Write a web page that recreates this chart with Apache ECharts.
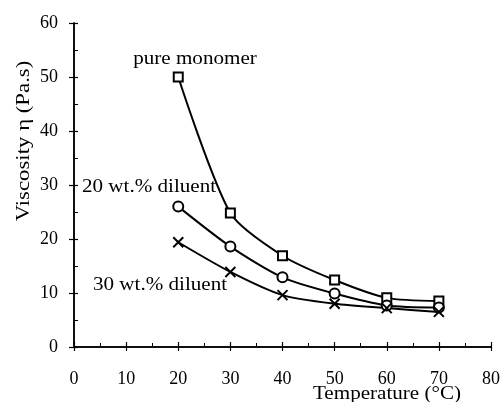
<!DOCTYPE html>
<html><head><meta charset="utf-8">
<script src="https://cdn.jsdelivr.net/npm/echarts@6/dist/echarts.min.js"></script>
<style>html,body{margin:0;padding:0;background:#fff}#c{width:503px;height:402px}</style>
</head><body><div id="c"></div>
<script>
const temps = [20, 30, 40, 50, 60, 70];
const pureMonomer = [50, 24.8, 16.9, 12.4, 9.1, 8.5];
const diluent20 = [26, 18.6, 12.9, 9.9, 7.7, 7.3];
const diluent30 = [19.4, 13.9, 9.6, 8.0, 7.2, 6.5];
const seriesNames = ['pure monomer', '20 wt.% diluent', '30 wt.% diluent'];
const xTitle = 'Temperature (°C)';
const yTitle = 'Viscosity η (Pa.s)';

const font = 'Liberation Serif';
const pairs = a => temps.map((t, i) => [t, a[i]]);
const crossPath = 'path://M0,0L10,10M10,0L0,10';

const chart = echarts.init(document.getElementById('c'));
const axisCommon = {
  axisLine: {show: true, lineStyle: {color: '#000', width: 1.5}},
  splitLine: {show: false}
};
const txt = (text, x, y, size, sx, rot) => ({
  type: 'text', x: x, y: y, scaleX: sx, rotation: rot || 0,
  style: {text: text, x: 0, y: 0, align: 'center', verticalAlign: 'middle',
    font: size + 'px "Liberation Serif"', fill: '#000'}
});
chart.setOption({
  backgroundColor: '#fff',
  animation: false,
  grid: {left: 74, right: 11, top: 23, bottom: 55},
  xAxis: [{
    type: 'value', min: 0, max: 80, interval: 10,
    ...axisCommon,
    axisTick: {show: true, inside: false, length: 4, lineStyle: {color: '#000', width: 1.2}},
    axisLabel: {color: '#000', fontFamily: font, fontSize: 18, margin: 23}
  }, {
    type: 'value', min: 0, max: 80, interval: 10, position: 'bottom',
    ...axisCommon,
    axisTick: {show: true, inside: true, length: 5, lineStyle: {color: '#000', width: 1.2}},
    minorTick: {show: true, splitNumber: 2, length: 4, lineStyle: {color: '#000', width: 1}},
    axisLabel: {show: false}
  }],
  yAxis: [{
    type: 'value', min: 0, max: 60, interval: 10,
    ...axisCommon,
    axisTick: {show: true, inside: false, length: 5, lineStyle: {color: '#000', width: 1.2}},
    axisLabel: {color: '#000', fontFamily: font, fontSize: 18, margin: 16}
  }, {
    type: 'value', min: 0, max: 60, interval: 10, position: 'left',
    ...axisCommon,
    axisTick: {show: true, inside: true, length: 4, lineStyle: {color: '#000', width: 1.2}},
    minorTick: {show: true, splitNumber: 2, length: 4, lineStyle: {color: '#000', width: 1}},
    axisLabel: {show: false}
  }],
  series: [
    {name: seriesNames[0], type: 'line', data: pairs(pureMonomer), smooth: 0.25,
      symbol: 'rect', symbolSize: 9,
      lineStyle: {color: '#000', width: 2},
      itemStyle: {color: '#fff', borderColor: '#000', borderWidth: 2}, z: 3},
    {name: seriesNames[1], type: 'line', data: pairs(diluent20), smooth: 0.25,
      symbol: 'circle', symbolSize: 10,
      lineStyle: {color: '#000', width: 2},
      itemStyle: {color: '#fff', borderColor: '#000', borderWidth: 2}, z: 3},
    {name: seriesNames[2], type: 'line', data: pairs(diluent30), smooth: 0.25,
      symbol: crossPath, symbolSize: 10,
      lineStyle: {color: '#000', width: 2},
      itemStyle: {color: 'none', borderColor: '#000', borderWidth: 2}, z: 3}
  ],
  graphic: [
    txt(seriesNames[0], 195, 59, 19, 1.11),
    txt(seriesNames[1], 149, 187, 19, 1.11),
    txt(seriesNames[2], 160, 285, 19, 1.11),
    txt(xTitle, 387, 394, 19, 1.11),
    txt(yTitle, 24, 141, 19, 1.2, Math.PI / 2)
  ]
});
</script></body></html>
